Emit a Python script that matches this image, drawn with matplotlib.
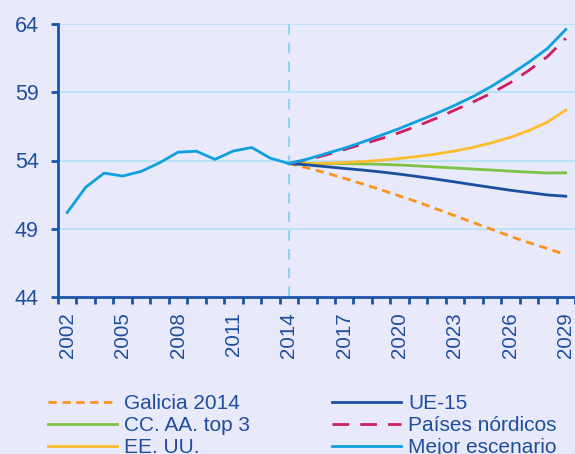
import numpy as np
import matplotlib
matplotlib.use("Agg")
import matplotlib.pyplot as plt

# historic series (2002-2014)
hist_years = list(range(2002, 2015))
hist_vals = [50.19, 52.04, 53.08, 52.86, 53.2, 53.83, 54.61, 54.68, 54.08, 54.7, 54.95, 54.17, 53.78]

# projections (2014-2029)
proj_years = list(range(2014, 2030))
galicia = [53.78, 53.45, 53.1, 52.7, 52.28, 51.85, 51.4, 50.95, 50.45, 49.95, 49.45, 48.95, 48.45, 47.98, 47.55, 47.1]
ccaa_top3 = [53.78, 53.78, 53.78, 53.77, 53.75, 53.72, 53.67, 53.6, 53.52, 53.45, 53.37, 53.3, 53.22, 53.15, 53.08, 53.1]
eeuu = [53.78, 53.78, 53.8, 53.85, 53.92, 54.02, 54.15, 54.3, 54.48, 54.7, 54.97, 55.3, 55.7, 56.2, 56.8, 57.7]
ue15 = [53.78, 53.68, 53.55, 53.42, 53.3, 53.16, 53.0, 52.82, 52.63, 52.43, 52.22, 52.02, 51.82, 51.65, 51.48, 51.38]
nordicos = [53.78, 54.05, 54.4, 54.8, 55.2, 55.6, 56.05, 56.55, 57.1, 57.7, 58.3, 58.95, 59.7, 60.6, 61.6, 62.95]
mejor = [53.78, 54.1, 54.5, 54.9, 55.35, 55.85, 56.35, 56.9, 57.45, 58.05, 58.7, 59.45, 60.3, 61.2, 62.2, 63.6]

label_years = [2002, 2005, 2008, 2011, 2014, 2017, 2020, 2023, 2026, 2029]
y_ticks = [44, 49, 54, 59, 64]

BG = "#E8E9FA"
NAVY = "#1A55A8"
TXT = "#1F4E9E"

plt.rcParams["font.family"] = ["Liberation Sans", "DejaVu Sans"]

fig = plt.figure(figsize=(5.75, 4.54), dpi=100, facecolor=BG)
ax = fig.add_axes([58 / 575, 1 - 297 / 454, 1 - 58 / 575, (297 - 24) / 454])
ax.set_facecolor(BG)

for y in y_ticks[1:]:
    ax.axhline(y, color="#B8E2F8", lw=1.3, zorder=1)
ax.axvline(2014, color="#8FD3F0", lw=1.5, ls=(0, (5, 4)), zorder=1)

lw = 2.0
ax.plot(hist_years, hist_vals, color="#0FA0DF", lw=lw, zorder=5)
l_gal, = ax.plot(proj_years, galicia, color="#F7941D", lw=lw, ls=(0, (3, 2)), label="Galicia 2014")
l_cc, = ax.plot(proj_years, ccaa_top3, color="#7DC242", lw=lw, label="CC. AA. top 3")
l_us, = ax.plot(proj_years, eeuu, color="#FDBB2F", lw=lw, label="EE. UU.")
l_ue, = ax.plot(proj_years, ue15, color="#1A4FA0", lw=lw, label="UE-15")
l_no, = ax.plot(proj_years, nordicos, color="#CC1F5E", lw=lw, ls=(0, (6, 4)), label="Países nórdicos")
l_me, = ax.plot(proj_years, mejor, color="#0FA0DF", lw=lw, label="Mejor escenario", zorder=5)

ax.set_xlim(2001.5, 2029.22)
ax.set_ylim(44, 64)

ax.set_xticks(np.arange(2001.5, 2029.6, 1.0))
ax.set_xticklabels([])
ax.set_xticks(label_years, minor=True)
ax.set_xticklabels([str(y) for y in label_years], minor=True, rotation=90)
ax.tick_params(axis="x", which="major", length=5, width=2, color=NAVY, direction="out")
ax.tick_params(axis="x", which="minor", length=0, pad=11, labelsize=14.8, labelcolor=TXT)

ax.set_yticks(y_ticks)
ax.set_yticklabels([str(y) for y in y_ticks])
ax.tick_params(axis="y", length=5, width=2, color=NAVY, pad=9, labelsize=15.5, labelcolor=TXT)

for s in ["top", "right"]:
    ax.spines[s].set_visible(False)
for s in ["left", "bottom"]:
    ax.spines[s].set_color(NAVY)
    ax.spines[s].set_linewidth(2)

handles = [l_gal, l_cc, l_us, l_ue, l_no, l_me]
fig.legend(handles=handles, labels=[h.get_label() for h in handles], ncol=2,
           loc="upper left", bbox_to_anchor=(48 / 575, 1 - 394 / 454),
           frameon=False, fontsize=15, labelcolor=TXT, handlelength=3.3,
           handletextpad=0.35, columnspacing=3.95, labelspacing=0.15,
           borderpad=0, borderaxespad=0)

fig.savefig("out.png", dpi=100, facecolor=BG)
